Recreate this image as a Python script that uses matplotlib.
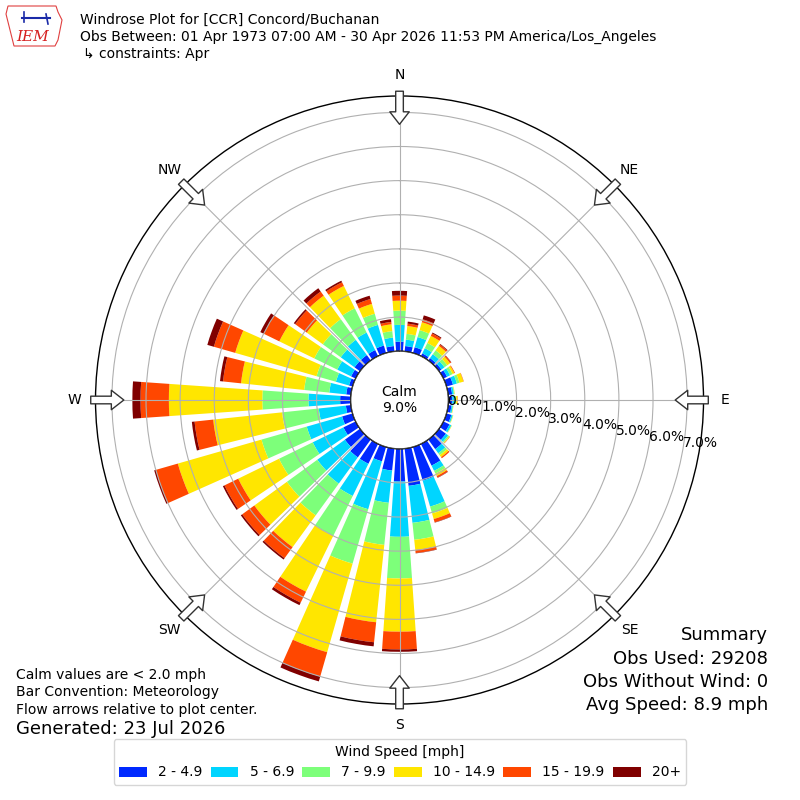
import numpy as np
import matplotlib
matplotlib.use("Agg")
import matplotlib.pyplot as plt
from matplotlib.patches import Circle, Polygon

# ---------------- data (percent of observations) ----------------
directions = np.arange(0, 360, 10)
speed_labels = ["2 - 4.9", "5 - 6.9", "7 - 9.9", "10 - 14.9", "15 - 19.9", "20+"]
calm_pct = 9.0

s_2_5 = [0.28, 0.16, 0.18, 0.09, 0.09, 0.09, 0.12, 0.20, 0.12, 0.12, 0.10, 0.15,
         0.20, 0.25, 0.35, 0.71, 1.03, 1.10, 0.96, 0.65, 0.44, 0.65, 0.65, 0.55,
         0.40, 0.32, 0.15, 0.31, 0.14, 0.11, 0.15, 0.20, 0.20, 0.20, 0.23, 0.16]
s_5_7 = [0.49, 0.19, 0.31, 0.17, 0.14, 0.11, 0.10, 0.12, 0.05, 0.07, 0.04, 0.04,
         0.06, 0.08, 0.15, 0.17, 0.79, 1.09, 1.62, 0.95, 1.46, 1.05, 0.95, 1.00,
         1.00, 1.08, 0.80, 0.93, 0.50, 0.40, 0.45, 0.50, 0.55, 0.57, 0.63, 0.25]
s_7_10 = [0.42, 0.17, 0.21, 0.17, 0.14, 0.10, 0.08, 0.08, 0.02, 0.04, 0.01, 0.01,
          0.01, 0.04, 0.07, 0.09, 0.21, 0.50, 1.22, 1.24, 1.66, 1.30, 1.15, 1.10,
          1.10, 1.38, 1.08, 1.35, 0.74, 0.59, 0.75, 0.65, 0.75, 0.79, 0.34, 0.19]
s_10_15 = [0.29, 0.23, 0.24, 0.23, 0.16, 0.10, 0.06, 0.12, 0.01, 0.04, 0.01, 0.01,
           0.01, 0.02, 0.07, 0.08, 0.17, 0.30, 1.56, 2.28, 2.70, 1.82, 1.15, 1.18,
           1.33, 2.55, 2.03, 2.74, 1.86, 2.48, 1.14, 0.58, 0.85, 0.73, 0.30, 0.20]
s_15_20 = [0.15, 0.07, 0.09, 0.08, 0.05, 0.04, 0.02, 0.01, 0.00, 0.01, 0.00, 0.00,
           0.00, 0.01, 0.04, 0.05, 0.10, 0.09, 0.52, 0.59, 0.74, 0.36, 0.40, 0.44,
           0.45, 0.67, 0.55, 0.83, 0.53, 0.65, 0.51, 0.42, 0.15, 0.12, 0.15, 0.07]
s_20p = [0.14, 0.06, 0.12, 0.03, 0.02, 0.01, 0.00, 0.00, 0.00, 0.00, 0.00, 0.00,
         0.00, 0.00, 0.00, 0.01, 0.01, 0.01, 0.07, 0.12, 0.15, 0.08, 0.05, 0.05,
         0.05, 0.05, 0.08, 0.24, 0.09, 0.20, 0.11, 0.05, 0.12, 0.05, 0.10, 0.08]
speed_bins = [s_2_5, s_5_7, s_7_10, s_10_15, s_15_20, s_20p]

ring_ticks = [0, 1, 2, 3, 4, 5, 6, 7]
compass = ["N", "NE", "E", "SE", "S", "SW", "W", "NW"]
compass_deg = [0, 45, 90, 135, 180, 225, 270, 315]

# ---------------- figure ----------------
fig = plt.figure(figsize=(8, 8), dpi=100)
ax = fig.add_axes([0.1194, 0.12, 0.76, 0.76], projection="polar")
ax.set_theta_zero_location("N")
ax.set_theta_direction(-1)
ax.set_rorigin(-1.43)
ax.set_ylim(0, 7.48)
ax.set_axisbelow(False)

cmap = plt.get_cmap("jet")
colors = [cmap(v) for v in np.linspace(0, 1, 7)[1:]]
theta = np.deg2rad(directions)
width = np.deg2rad(10) * 0.8
bottom = np.zeros(len(directions))
handles = []
for vals, col, lab in zip(speed_bins, colors, speed_labels):
    vals = np.asarray(vals)
    b = ax.bar(theta, vals, width=width, bottom=bottom, color=col,
               edgecolor="none", linewidth=0, label=lab, zorder=1)
    handles.append(b)
    bottom = bottom + vals

ax.set_yticks(ring_ticks)
ax.set_yticklabels([])
ax.set_xticks(np.deg2rad(compass_deg))
ax.set_xticklabels([])
ax.grid(True, color="#b0b0b0", lw=0.8)
ax.spines["polar"].set_color("black")
ax.spines["polar"].set_linewidth(1.0)

for t in ring_ticks:
    ax.text(np.deg2rad(100), t, f"{t:.1f}%", ha="left", va="bottom",
            fontsize=10, zorder=7)

for lab, d in zip(compass, compass_deg):
    ax.text(np.deg2rad(d), 8.1, lab, ha="center", va="center", fontsize=10)
    ax.annotate("", xy=(np.deg2rad(d), 6.65), xytext=(np.deg2rad(d), 7.62),
                annotation_clip=False,
                arrowprops=dict(arrowstyle="simple,head_length=0.9,head_width=1.4,tail_width=0.55",
                                fc="white", ec="#333333", lw=1.0,
                                shrinkA=0, shrinkB=0), zorder=8)

calm_r = 1.43 / (1.43 + 7.48) / 2
ax.add_patch(Circle((0.5, 0.5), calm_r, transform=ax.transAxes,
                    facecolor="white", edgecolor="black", lw=1.0, zorder=6))
ax.text(0.5, 0.5, f"Calm\n{calm_pct:.1f}%", transform=ax.transAxes,
        ha="center", va="center", fontsize=10, zorder=7)

# ---------------- header ----------------
fig.text(80 / 800, 1 - 20 / 800, "Windrose Plot for [CCR] Concord/Buchanan",
         fontsize=10, va="center", ha="left")
fig.text(80 / 800, 1 - 37 / 800,
         "Obs Between: 01 Apr 1973 07:00 AM - 30 Apr 2026 11:53 PM America/Los_Angeles",
         fontsize=10, va="center", ha="left")
fig.text(83 / 800, 1 - 54 / 800, "\u21b3 constraints: Apr",
         fontsize=10, va="center", ha="left")

# simple IEM logo
iowa = [(8, 6), (56, 6), (58, 12), (62, 20), (60, 30), (58, 40), (55, 46),
        (14, 46), (12, 38), (9, 26), (6, 14)]
fig.patches.append(Polygon([(x / 800, 1 - y / 800) for x, y in iowa], closed=True,
                           transform=fig.transFigure, fill=False,
                           edgecolor="#e04040", lw=0.8))
fig.text(33 / 800, 1 - 37 / 800, "IEM", color="#d62020", fontsize=11,
         style="italic", family="DejaVu Serif", ha="center", va="center")
fig.lines.append(plt.Line2D([22 / 800, 50 / 800], [1 - 18 / 800, 1 - 18 / 800],
                            transform=fig.transFigure, color="#1a2aa8", lw=1.5))
fig.lines.append(plt.Line2D([24 / 800, 24 / 800], [1 - 12 / 800, 1 - 22 / 800],
                            transform=fig.transFigure, color="#1a2aa8", lw=1.2))
fig.lines.append(plt.Line2D([46 / 800, 48 / 800], [1 - 14 / 800, 1 - 24 / 800],
                            transform=fig.transFigure, color="#1a2aa8", lw=1.2))

# ---------------- footer text ----------------
fig.text(16 / 800, 1 - 675 / 800, "Calm values are < 2.0 mph", fontsize=10,
         ha="left", va="center")
fig.text(16 / 800, 1 - 692 / 800, "Bar Convention: Meteorology", fontsize=10,
         ha="left", va="center")
fig.text(16 / 800, 1 - 710 / 800, "Flow arrows relative to plot center.", fontsize=10,
         ha="left", va="center")
fig.text(16 / 800, 1 - 729 / 800, "Generated: 23 Jul 2026", fontsize=13,
         ha="left", va="center")

summary = ["Summary", "Obs Used: 29208", "Obs Without Wind: 0", "Avg Speed: 8.9 mph"]
for i, s in enumerate(summary):
    fig.text(768 / 800, 1 - (635 + 23.5 * i) / 800, s, fontsize=13,
             ha="right", va="center")

fig.legend(handles, speed_labels, ncol=6, loc="lower center",
           bbox_to_anchor=(0.5, 0.01), title="Wind Speed [mph]",
           fontsize=10, title_fontsize=10, columnspacing=0.6)

fig.savefig("out.png", dpi=100)
